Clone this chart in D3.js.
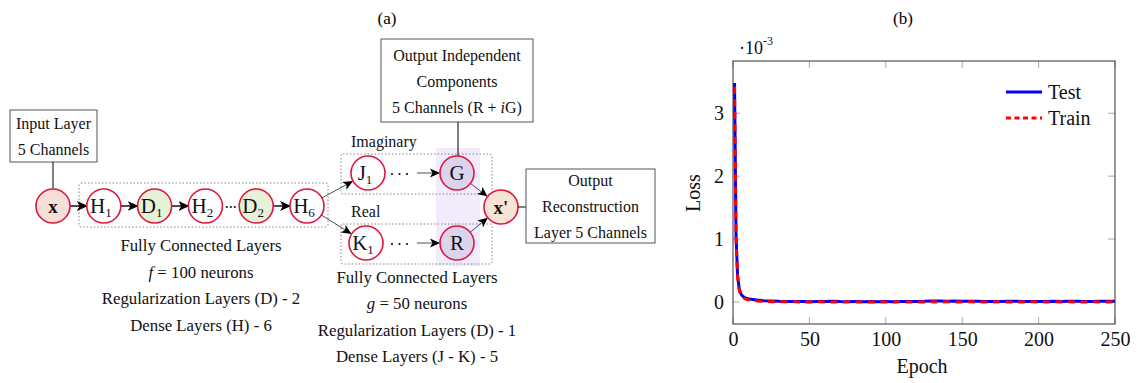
<!DOCTYPE html>
<html>
<head>
<meta charset="utf-8">
<script src="https://cdn.jsdelivr.net/npm/d3@7"></script>
<style>
  body { margin: 0; background: #fff; }
  svg, svg text { font-family: 'Liberation Serif', 'Times New Roman', serif; }
</style>
</head>
<body>
<svg id="fig" width="1141" height="383"></svg>
<script>
// ---- (a) diagram content ----
const chainNodes = [
  { id: 'x', label: 'x', sub: '', kind: 'input' },
  { id: 'H1', label: 'H', sub: '1', kind: 'dense' },
  { id: 'D1', label: 'D', sub: '1', kind: 'reg' },
  { id: 'H2', label: 'H', sub: '2', kind: 'dense' },
  { id: 'D2', label: 'D', sub: '2', kind: 'reg' },
  { id: 'H6', label: 'H', sub: '6', kind: 'dense' },
]
const chainLinks = [['x', 'H1', 'arrow'], ['H1', 'D1', 'arrow'], ['D1', 'H2', 'arrow'], ['H2', 'D2', 'dots'], ['D2', 'H6', 'arrow']]
const branchNodes = [
  { id: 'J1', label: 'J', sub: '1', out: 'G', name: 'Imaginary' },
  { id: 'K1', label: 'K', sub: '1', out: 'R', name: 'Real' },
]
const inputBoxLines = ['Input Layer', '5 Channels']
const componentsBoxLines = ['Output Independent', 'Components', '5 Channels (R + <i>i</i>G)']
const outputBoxLines = ['Output', 'Reconstruction', 'Layer 5 Channels']
const leftNotes = ['Fully Connected Layers', '<i>f</i> = 100 neurons', 'Regularization Layers (D) - 2', 'Dense Layers (H) - 6']
const rightNotes = ['Fully Connected Layers', '<i>g</i> = 50 neurons', 'Regularization Layers (D) - 1', 'Dense Layers (J - K) - 5']

// ---- (b) loss curves (values in units of 1e-3) ----
const epochs = [1, 2, 3, 4, 5, 6, 7, 8, 10, 12, 14, 16, 18, 20, 25,
  30, 35, 40, 45, 50, 55, 60, 65, 70, 75, 80, 85, 90, 95, 100, 105, 110, 115, 120, 125,
  130, 135, 140, 145, 150, 155, 160, 165, 170, 175, 180, 185, 190, 195, 200, 205, 210,
  215, 220, 225, 230, 235, 240, 245, 250]
const testLoss = [3.48, 1.05, 0.42, 0.22, 0.14, 0.1, 0.08, 0.066, 0.052, 0.042, 0.036, 0.03, 0.026, 0.02, 0.015,
  0.01, 0.008, 0.006, 0.007, 0.005, 0.006, 0.008, 0.012, 0.007, 0.005, 0.006, 0.005, 0.007, 0.005, 0.006, 0.005, 0.006, 0.007, 0.008, 0.01,
  0.015, 0.014, 0.012, 0.016, 0.012, 0.01, 0.012, 0.009, 0.007, 0.008, 0.01, 0.012, 0.008, 0.007, 0.009, 0.008, 0.01,
  0.009, 0.012, 0.01, 0.008, 0.009, 0.01, 0.011, 0.012]
const trainLoss = [3.42, 1.0, 0.4, 0.2, 0.12, 0.08, 0.062, 0.05, 0.036, 0.026, 0.02, 0.015, 0.012, 0.01, 0.005,
  0.003, 0.002, 0.002, 0.001, 0.001, 0.002, 0.001, 0.001, 0.001, 0.002, 0.001, 0.001, 0.001, 0.001, 0.001, 0.001, 0.002, 0.001, 0.001, 0.001,
  0.002, 0.001, 0.002, 0.001, 0.001, 0.002, 0.001, 0.001, 0.001, 0.002, 0.001, 0.001, 0.001, 0.002, 0.001, 0.001, 0.002,
  0.001, 0.002, 0.001, 0.001, 0.002, 0.001, 0.001, 0.002]
const xTicks = [0, 50, 100, 150, 200, 250]
const yTicks = [0, 1, 2, 3]

const svg = d3.select('#fig')
const defs = svg.append('defs')

function addMarker(id, size) {
  defs.append('marker')
    .attr('id', id)
    .attr('viewBox', '0 -5 10 10')
    .attr('refX', 9)
    .attr('refY', 0)
    .attr('markerUnits', 'userSpaceOnUse')
    .attr('markerWidth', size)
    .attr('markerHeight', size)
    .attr('orient', 'auto')
    .append('path')
    .attr('d', 'M0,-4.5L10,0L0,4.5L2.5,0Z')
    .attr('fill', '#000')
}
addMarker('headBig', 11)
addMarker('headSmall', 10)

// rich text helper: supports <i>...</i>
function richText(sel, str) {
  const parts = str.split(/(<i>.*?<\/i>)/).filter((p) => p)
  parts.forEach((p) => {
    const m = p.match(/^<i>(.*)<\/i>$/)
    sel.append('tspan').attr('font-style', m ? 'italic' : null).text(m ? m[1] : p)
  })
}

function textBlock(g, lines, cx, y0, step, size) {
  lines.forEach((line, i) => {
    const t = g.append('text')
      .attr('x', cx)
      .attr('y', y0 + i * step)
      .attr('text-anchor', 'middle')
      .attr('font-size', size)
      .attr('fill', '#111')
    richText(t, line)
  })
}

function box(g, x, y, w, h, lines, step) {
  g.append('rect').attr('x', x).attr('y', y).attr('width', w).attr('height', h)
    .attr('fill', '#fff').attr('stroke', '#555').attr('stroke-width', 1)
  textBlock(g, lines, x + w / 2, y + h / 2 - (lines.length - 1) * step / 2 + 6, step, 16)
}

const R = 17
const nodeStroke = '#e0163f'
const fills = { input: '#f5dfd9', dense: '#fff', reg: '#e7f1d6', out: '#dcd3ec', recon: '#f7e4d6' }

function node(g, cx, cy, label, sub, kind) {
  g.append('circle').attr('cx', cx).attr('cy', cy).attr('r', R)
    .attr('fill', fills[kind]).attr('stroke', nodeStroke).attr('stroke-width', 1.6)
  const t = g.append('text')
    .attr('x', cx + (sub ? -3 : 0)).attr('y', cy + 7)
    .attr('text-anchor', 'middle')
    .attr('font-size', 21)
    .attr('fill', '#111')
  if (kind === 'input' || kind === 'recon') t.attr('font-weight', 'bold').attr('font-size', 19)
  t.append('tspan').text(label)
  if (sub) t.append('tspan').attr('dy', 4).attr('font-size', 13).text(sub)
}

function dots(g, cx, cy, gap) {
  [-1, 0, 1].forEach((k) => {
    g.append('circle').attr('cx', cx + k * gap).attr('cy', cy).attr('r', 1.1).attr('fill', '#111')
  })
}

// ---------- panel (a) ----------
const ga = svg.append('g')
ga.append('text').attr('x', 387).attr('y', 24).attr('text-anchor', 'middle').attr('font-size', 17).text('(a)')

const chainY = 206
const chainX = d3.scalePoint().domain(chainNodes.map((d) => d.id)).range([53, 307])

// purple band behind outputs
ga.append('rect').attr('x', 436).attr('y', 148).attr('width', 44).attr('height', 118).attr('fill', '#f1ebfb')

// dotted containers
ga.append('rect').attr('x', 79).attr('y', 183).attr('width', 249).attr('height', 44).attr('rx', 2)
  .attr('fill', 'none').attr('stroke', '#666').attr('stroke-width', 0.8).attr('stroke-dasharray', '1.5,2')

const branchY = d3.scalePoint().domain(branchNodes.map((d) => d.id)).range([173, 243])
branchNodes.forEach((b) => {
  const y = branchY(b.id)
  ga.append('rect').attr('x', 341).attr('y', y - 19).attr('width', 151).attr('height', 40).attr('rx', 2)
    .attr('fill', 'none').attr('stroke', '#666').attr('stroke-width', 0.8).attr('stroke-dasharray', '1.5,2')
  ga.append('text').attr('x', 351).attr('y', y - 26).attr('font-size', 16).attr('fill', '#111').text(b.name)
})

// input box and connector
box(ga, 10, 110, 87, 52, inputBoxLines, 26)
ga.append('line').attr('x1', 53).attr('y1', 162).attr('x2', 53).attr('y2', chainY - R).attr('stroke', '#000')

// chain links
chainLinks.forEach(([a, b, type]) => {
  const x1 = chainX(a) + R
  const x2 = chainX(b) - R
  if (type === 'arrow') {
    ga.append('line').attr('x1', x1).attr('y1', chainY).attr('x2', x2).attr('y2', chainY)
      .attr('stroke', '#000').attr('stroke-width', 1.4).attr('marker-end', 'url(#headBig)')
  } else {
    dots(ga, (x1 + x2) / 2, chainY + 1, 4)
  }
})

chainNodes.forEach((d) => node(ga, chainX(d.id), chainY, d.label, d.sub, d.kind))

// branch links and nodes
const h6 = [chainX('H6'), chainY]
const outX = 457
const recon = [501, 207]

function edgeLine(p, q, r1, r2, marker) {
  const dx = q[0] - p[0]
  const dy = q[1] - p[1]
  const len = Math.hypot(dx, dy)
  ga.append('line')
    .attr('x1', p[0] + dx / len * r1).attr('y1', p[1] + dy / len * r1)
    .attr('x2', q[0] - dx / len * r2).attr('y2', q[1] - dy / len * r2)
    .attr('stroke', '#222').attr('stroke-width', 0.8).attr('marker-end', marker)
}

// output components box connector
box(ga, 381, 39, 152, 83, componentsBoxLines, 26)
ga.append('line').attr('x1', 458).attr('y1', 122).attr('x2', 458).attr('y2', branchY('J1') - R).attr('stroke', '#000')

branchNodes.forEach((b) => {
  const y = branchY(b.id)
  const bx = b.id === 'J1' ? 368 : 366
  edgeLine(h6, [bx, y], R, R + 1, 'url(#headSmall)')
  dots(ga, 399.5, y + 1, 7.5)
  ga.append('line').attr('x1', 417).attr('y1', y).attr('x2', outX - R - 1).attr('y2', y)
    .attr('stroke', '#222').attr('stroke-width', 0.8).attr('marker-end', 'url(#headSmall)')
  edgeLine([outX, y], recon, R, R + 1, 'url(#headSmall)')
  node(ga, bx, y, b.label, b.sub, 'dense')
  node(ga, outX, y, b.out, '', 'out')
})

node(ga, recon[0], recon[1], "x'", '', 'recon')
ga.append('line').attr('x1', recon[0] + R).attr('y1', recon[1]).attr('x2', 526).attr('y2', recon[1]).attr('stroke', '#000')
box(ga, 526, 169, 129, 74, outputBoxLines, 26)

textBlock(ga, leftNotes, 201, 251, 26.7, 16.8)
textBlock(ga, rightNotes, 417, 283, 26.3, 16.8)

// ---------- panel (b) ----------
const gb = svg.append('g')
const x = d3.scaleLinear().domain([0, 250]).range([733, 1115])
const y = d3.scaleLinear().domain([-0.35, 3.83]).range([324, 61])

gb.append('text').attr('x', 903).attr('y', 24).attr('text-anchor', 'middle').attr('font-size', 17).text('(b)')

// inner tick marks (gray)
const tickLen = 7
xTicks.forEach((t) => {
  gb.append('line').attr('x1', x(t)).attr('x2', x(t)).attr('y1', y.range()[1]).attr('y2', y.range()[1] + tickLen).attr('stroke', '#aaa')
  gb.append('line').attr('x1', x(t)).attr('x2', x(t)).attr('y1', y.range()[0]).attr('y2', y.range()[0] - tickLen).attr('stroke', '#aaa')
})
yTicks.forEach((t) => {
  gb.append('line').attr('x1', x.range()[0]).attr('x2', x.range()[0] + tickLen).attr('y1', y(t)).attr('y2', y(t)).attr('stroke', '#aaa')
  gb.append('line').attr('x1', x.range()[1]).attr('x2', x.range()[1] - tickLen).attr('y1', y(t)).attr('y2', y(t)).attr('stroke', '#aaa')
})

const xAxis = gb.append('g').attr('transform', `translate(0,${y.range()[0]})`)
  .call(d3.axisBottom(x).tickValues(xTicks).tickFormat(d3.format('d')).tickSize(0).tickPadding(8))
xAxis.attr('font-family', null)
xAxis.select('.domain').remove()
xAxis.selectAll('text').attr('font-size', 20).attr('font-family', 'Liberation Serif').attr('fill', '#111')

const yAxis = gb.append('g').attr('transform', `translate(${x.range()[0]},0)`)
  .call(d3.axisLeft(y).tickValues(yTicks).tickFormat(d3.format('d')).tickSize(0).tickPadding(9))
yAxis.attr('font-family', null)
yAxis.select('.domain').remove()
yAxis.selectAll('text').attr('font-size', 20).attr('font-family', 'Liberation Serif').attr('fill', '#111')

const lineGen = (vals) => d3.line().x((d, i) => x(epochs[i])).y((d) => y(d))(vals)

const clip = defs.append('clipPath').attr('id', 'plotClip')
clip.append('rect').attr('x', 733).attr('y', 61).attr('width', 382).attr('height', 263)

const plot = gb.append('g').attr('clip-path', 'url(#plotClip)')
plot.append('path').attr('d', lineGen(testLoss)).attr('fill', 'none').attr('stroke', '#0000ff')
  .attr('stroke-width', 3).attr('stroke-linejoin', 'round')
plot.append('path').attr('d', lineGen(trainLoss)).attr('fill', 'none').attr('stroke', '#ff0000')
  .attr('stroke-width', 3).attr('stroke-dasharray', '7,5.5')

gb.append('rect').attr('x', 733).attr('y', 61).attr('width', 382).attr('height', 263)
  .attr('fill', 'none').attr('stroke', '#333').attr('stroke-width', 1)

// exponent label
const expo = gb.append('text').attr('x', 739).attr('y', 54).attr('font-size', 18).attr('fill', '#111')
expo.append('tspan').text('·10')
expo.append('tspan').attr('dy', -9).attr('font-size', 12).text('-3')

gb.append('text').attr('transform', 'translate(700,193) rotate(-90)').attr('text-anchor', 'middle')
  .attr('font-size', 20).attr('fill', '#111').text('Loss')
gb.append('text').attr('x', 922).attr('y', 373).attr('text-anchor', 'middle')
  .attr('font-size', 20).attr('fill', '#111').text('Epoch')

// legend
const legendItems = [
  { name: 'Test', color: '#0000ff', dash: null },
  { name: 'Train', color: '#ff0000', dash: '5,3.5' },
]
const ly = d3.scalePoint().domain(legendItems.map((d) => d.name)).range([92, 118])
legendItems.forEach((d) => {
  gb.append('line').attr('x1', 1006).attr('x2', 1042).attr('y1', ly(d.name)).attr('y2', ly(d.name))
    .attr('stroke', d.color).attr('stroke-width', 3).attr('stroke-dasharray', d.dash)
  gb.append('text').attr('x', 1048).attr('y', ly(d.name) + 7).attr('font-size', 20).attr('fill', '#111').text(d.name)
})
</script>
</body>
</html>
